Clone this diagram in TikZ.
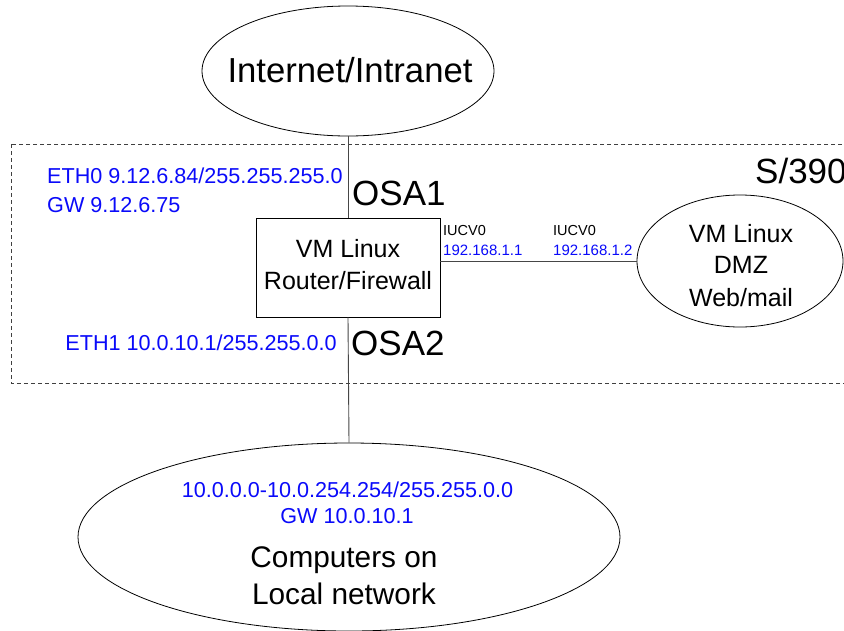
\documentclass[tikz,border=0pt]{standalone}
\usepackage{fontspec}
\setmainfont{Liberation Sans}
\usetikzlibrary{shapes.geometric}
\definecolor{ipblue}{RGB}{10,10,250}
\definecolor{wire}{RGB}{70,70,70}
\newcommand{\fs}[1]{\fontsize{#1}{#1}\selectfont}
\tikzset{
  shapeline/.style={draw=black, line width=0.8pt},
  cloud/.style={shapeline, ellipse, inner sep=0pt},
  wirel/.style={draw=wire, line width=0.9pt},
  txt/.style={inner sep=0pt, anchor=base},
  txtw/.style={inner sep=0pt, anchor=base west},
  ip/.style={text=ipblue, font=\fs{21.6}},
  big/.style={font=\fs{35}},
  mid/.style={font=\fs{25}},
  tiny/.style={font=\fs{14.5}},
  zone/.style={draw=black!75, line width=0.8pt, dash pattern=on 4pt off 3pt}
}
\begin{document}
\begin{tikzpicture}[x=1pt,y=-1pt]
\useasboundingbox (0,0) rectangle (844,630);
\clip (0,0) rectangle (844,630);
\fill[white] (0,0) rectangle (844,630);

% S/390 zone
\draw[zone] (11,144) rectangle (870,383);

% shapes
\node[cloud, minimum width=292pt, minimum height=130pt] (inet) at (348,71) {};
\node[shapeline, rectangle, minimum width=184pt, minimum height=99pt, inner sep=0pt] (router) at (348,267.5) {};
\node[cloud, minimum width=206pt, minimum height=132pt] (dmz) at (740,261) {};
\node[cloud, minimum width=542pt, minimum height=188pt] (lan) at (349,537) {};

% connectors
\draw[wirel] (inet.south) -- (router.north);
\draw[wirel] (router.south) -- (lan.north);
\draw[wirel] (dmz.west) -- (dmz.west -| router.east);

% texts
\node[txt, font=\fs{34.7}] (tinet) at (350,82) {Internet/Intranet};
\node[txtw, big] (tsys) at (755,183) {S/390};
\node[txtw, big] (tosa1) at (352,205) {OSA1};
\node[txtw, big] (tosa2) at (351,355) {OSA2};
\node[txtw, ip] (teth0) at (47,183) {ETH0 9.12.6.84/255.255.255.0};
\node[txtw, ip] (tgw0) at (47,212) {GW 9.12.6.75};
\node[txt, anchor=base east, ip] (teth1) at (337,350) {ETH1 10.0.10.1/255.255.0.0};

\node[txt, mid] (tr1) at (348,257) {VM Linux};
\node[txt, mid] (tr2) at (348,289) {Router/Firewall};

\node[txt, mid] (td1) at (741,242) {VM Linux};
\node[txt, mid] (td2) at (741,273) {DMZ};
\node[txt, mid] (td3) at (741,306) {Web/mail};

\node[txtw, tiny] (tiu1) at (443,235) {IUCV0};
\node[txtw, ip, font=\fs{15}] (tip1) at (443,255) {192.168.1.1};
\node[txtw, tiny] (tiu2) at (553,235) {IUCV0};
\node[txtw, ip, font=\fs{15}] (tip2) at (553,255) {192.168.1.2};

\node[txt, ip] (tl1) at (347.5,497) {10.0.0.0-10.0.254.254/255.255.0.0};
\node[txt, ip] (tl2) at (347,523) {GW 10.0.10.1};
\node[txt, font=\fs{29.8}] (tl3) at (344,567) {Computers on};
\node[txt, font=\fs{29.8}] (tl4) at (344,604) {Local network};
\end{tikzpicture}
\end{document}
